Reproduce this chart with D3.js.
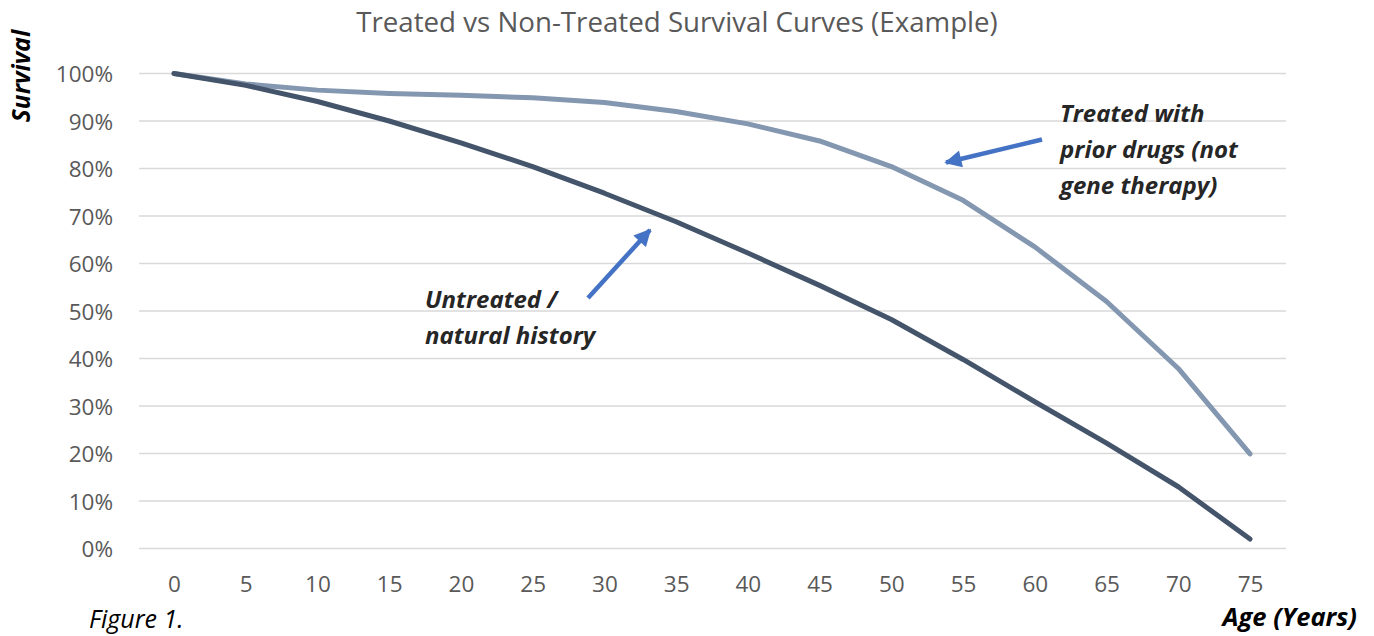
<!DOCTYPE html>
<html>
<head>
<meta charset="utf-8">
<script src="https://cdn.jsdelivr.net/npm/d3@7"></script>
<style>
  body { margin: 0; background: #fff; }
  svg { display: block; font-family: "Open Sans", sans-serif; }
</style>
</head>
<body>
<svg id="chart" width="1374" height="636"></svg>
<script>
// ages on the x axis
const ages = [0, 5, 10, 15, 20, 25, 30, 35, 40, 45, 50, 55, 60, 65, 70, 75]
// survival %
const untreated = [100, 97.5, 94.1, 90.0, 85.4, 80.4, 74.8, 68.8, 62.2, 55.4, 48.2, 39.8, 30.9, 22.2, 13.0, 2.0]
const treated = [100, 97.8, 96.5, 95.8, 95.4, 94.9, 93.9, 92.0, 89.4, 85.8, 80.4, 73.3, 63.5, 52.0, 37.9, 19.9]
const yTicks = [0, 10, 20, 30, 40, 50, 60, 70, 80, 90, 100]

const svg = d3.select("#chart")

const plotLeft = 139, plotRight = 1286, plotTop = 73.5, plotBottom = 548.5

// x is a point scale, first and last category inset like Excel
let x = d3.scalePoint()
  .domain(ages)
  .range([174, 1250])
let y = d3.scaleLinear()
  .domain([0, 100])
  .range([plotBottom, plotTop])

// gridlines
svg.append("g")
  .selectAll("line")
  .data(yTicks)
  .enter().append("line")
  .attr("x1", plotLeft).attr("x2", plotRight)
  .attr("y1", d => y(d)).attr("y2", d => y(d))
  .attr("stroke", "#d9d9d9")
  .attr("stroke-width", 1.3)

// y axis labels
let yAxis = d3.axisLeft(y).tickValues(yTicks).tickFormat(d => d + "%").tickSize(0).tickPadding(0)
svg.append("g")
  .attr("transform", "translate(113,0)")
  .call(yAxis)
  .call(g => g.select(".domain").remove())
  .selectAll("text")
  .attr("font-size", 22.5)
  .attr("fill", "#595959")
  .attr("font-family", "'Open Sans', sans-serif")
  .attr("dy", "0.357em")

// x axis labels
let xAxis = d3.axisBottom(x).tickSize(0).tickPadding(0)
svg.append("g")
  .attr("transform", "translate(0,591.5)")
  .call(xAxis)
  .call(g => g.select(".domain").remove())
  .selectAll("text")
  .attr("y", 0)
  .attr("font-size", 22.5)
  .attr("fill", "#595959")
  .attr("font-family", "'Open Sans', sans-serif")
  .attr("dy", 0)

let line = d3.line()
  .x((d, i) => x(ages[i]))
  .y(d => y(d))

svg.append("path")
  .datum(treated)
  .attr("d", line)
  .attr("fill", "none")
  .attr("stroke", "#8497b0")
  .attr("stroke-width", 5)
  .attr("stroke-linecap", "round")
  .attr("stroke-linejoin", "round")

svg.append("path")
  .datum(untreated)
  .attr("d", line)
  .attr("fill", "none")
  .attr("stroke", "#44546a")
  .attr("stroke-width", 5)
  .attr("stroke-linecap", "round")
  .attr("stroke-linejoin", "round")

// title
svg.append("text")
  .attr("x", 677).attr("y", 32)
  .attr("text-anchor", "middle")
  .attr("font-size", 27.7)
  .attr("fill", "#595959")
  .text("Treated vs Non-Treated Survival Curves (Example)")

// axis titles
svg.append("text")
  .attr("transform", "translate(30,76) rotate(-90)")
  .attr("text-anchor", "middle")
  .attr("font-size", 24.5)
  .attr("font-weight", "bold")
  .attr("font-style", "italic")
  .attr("fill", "#000")
  .text("Survival")

svg.append("text")
  .attr("x", 1357).attr("y", 626)
  .attr("text-anchor", "end")
  .attr("font-size", 25.5)
  .attr("font-weight", "bold")
  .attr("font-style", "italic")
  .attr("fill", "#000")
  .text("Age (Years)")

svg.append("text")
  .attr("x", 89).attr("y", 628)
  .attr("font-size", 25)
  .attr("font-style", "italic")
  .attr("fill", "#000")
  .text("Figure 1.")

// annotations
function note(lines, x0, y0) {
  let t = svg.append("text")
    .attr("font-size", 24)
    .attr("font-weight", "bold")
    .attr("font-style", "italic")
    .attr("fill", "#262626")
  lines.forEach((s, i) => {
    t.append("tspan").attr("x", x0).attr("y", y0 + i * 36).text(s)
  })
}
note(["Treated with", "prior drugs (not", "gene therapy)"], 1060, 122)
note(["Untreated /", "natural history"], 425, 308)

// arrows
svg.append("defs").append("marker")
  .attr("id", "head")
  .attr("viewBox", "0 0 10 10")
  .attr("refX", 9).attr("refY", 5)
  .attr("markerWidth", 4).attr("markerHeight", 3.8)
  .attr("markerUnits", "strokeWidth")
  .attr("orient", "auto")
  .append("path")
  .attr("d", "M0,0 L10,5 L0,10 Z")
  .attr("fill", "#4472c4")

function arrow(x1, y1, x2, y2) {
  svg.append("line")
    .attr("x1", x1).attr("y1", y1).attr("x2", x2).attr("y2", y2)
    .attr("stroke", "#4472c4")
    .attr("stroke-width", 4.5)
    .attr("marker-end", "url(#head)")
}
arrow(1042, 139.5, 946, 162.5)
arrow(588, 298, 650, 230)
</script>
</body>
</html>
